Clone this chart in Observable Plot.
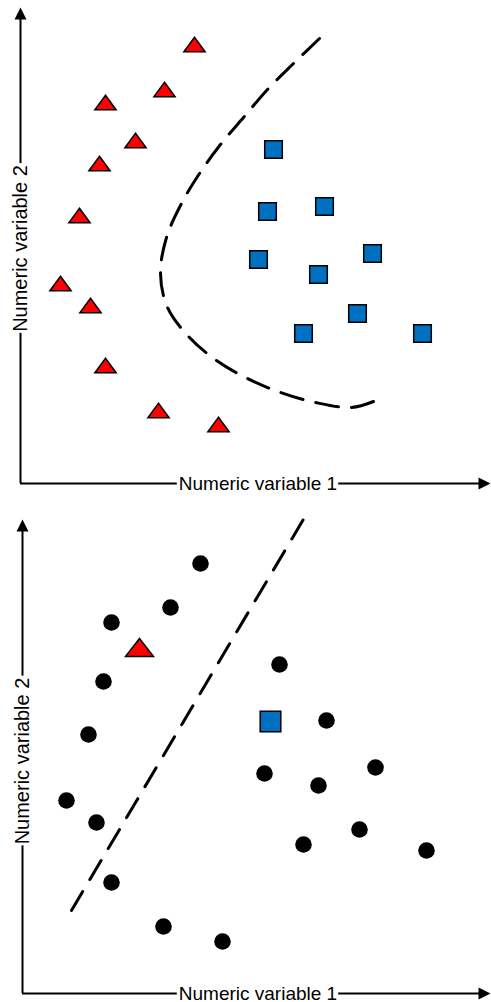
<!DOCTYPE html>
<html>
<head>
<meta charset="utf-8">
<script src="https://cdn.jsdelivr.net/npm/d3@7"></script>
<script src="https://cdn.jsdelivr.net/npm/@observablehq/plot@0.6"></script>
<style>
  html, body { margin: 0; padding: 0; background: white; }
  #chart svg { display: block; }
</style>
</head>
<body>
<div id="chart"></div>
<script>
// ---------- data ----------
const xLabel = "Numeric variable 1";
const yLabel = "Numeric variable 2";

// Top panel: labelled classes
const topTriX = [174, 144, 85, 115, 79, 59, 40, 70, 85, 138, 198];
const topTriY = [439, 394, 381, 343, 320, 268, 200, 178, 118, 73, 59];
const topSqX  = [253, 247, 304, 238, 352, 298, 337, 283, 402];
const topSqY  = [334, 272, 277, 224, 230, 209, 170, 150, 150];
// curved decision boundary
const boundX = [299, 273, 247, 223, 200, 179, 161, 146, 140, 147, 169, 196, 227, 260, 295, 331, 353];
const boundY = [445, 420, 394, 366, 339, 310, 280, 246, 210, 176, 146, 123, 105, 91, 81, 76, 82];

// Bottom panel: unlabelled points + one of each class
const botCircX = [178, 148, 89, 81, 66, 44, 74, 89, 141, 200, 257, 304, 242, 353, 296, 337, 281, 404];
const botCircY = [430, 386, 371, 312, 259, 193, 171, 111, 67, 52, 329, 273, 220, 226, 208, 164, 149, 143];
const botTriX = [117], botTriY = [346];
const botSqX = [248],  botSqY = [272];
// straight decision boundary
const lineX = [49, 282];
const lineY = [83, 476];

// ---------- helpers ----------
const zip = (xs, ys) => xs.map((x, i) => ({x, y: ys[i]}));
const FONT = "Liberation Sans, Arial, Helvetica, sans-serif";
const XFS = 19, YFS = 20;
const measure = (txt, fs) => {
  const ctx = document.createElement("canvas").getContext("2d");
  ctx.font = `${fs}px "Liberation Sans", Arial, sans-serif`;
  return ctx.measureText(txt).width;
};
const xLabW = measure(xLabel, XFS), yLabW = measure(yLabel, YFS);

const triSym = {draw(c) { c.moveTo(0, -7.2); c.lineTo(10.6, 7.2); c.lineTo(-10.6, 7.2); c.closePath(); }};
const bigTriSym = {draw(c) { c.moveTo(0, -9); c.lineTo(14, 9); c.lineTo(-14, 9); c.closePath(); }};
const sqSym  = {draw(c) { c.rect(-8.8, -8.8, 17.6, 17.6); }};
const bigSqSym  = {draw(c) { c.rect(-10.3, -10.3, 20.6, 20.6); }};
const arrowUp = {draw(c) { c.moveTo(0, 0); c.lineTo(6, 12); c.lineTo(-6, 12); c.closePath(); }};
const arrowRight = {draw(c) { c.moveTo(0, 0); c.lineTo(-12, -6); c.lineTo(-12, 6); c.closePath(); }};

// axis scales are 1 unit per pixel, so label widths convert directly
function axesMarks(xmax, ymax, xl, yl) {
  const gap = 1.5;
  const xa = xl - xLabW / 2 - gap, xb = xl + xLabW / 2 + gap;
  const ya = yl - yLabW / 2 - gap, yb = yl + yLabW / 2 + gap;
  return [
    Plot.ruleY([0, 0], {x1: [0, xb], x2: [xa, xmax - 6], stroke: "black", strokeWidth: 2}),
    Plot.ruleX([0, 0], {y1: [0, yb], y2: [ya, ymax - 6], stroke: "black", strokeWidth: 2}),
    Plot.dot([{x: 0, y: ymax}], {x: "x", y: "y", symbol: arrowUp, fill: "black", stroke: "none"}),
    Plot.dot([{x: xmax, y: 0}], {x: "x", y: "y", symbol: arrowRight, fill: "black", stroke: "none"}),
    Plot.text([{x: xl, y: 0, t: xLabel}], {x: "x", y: "y", text: "t", fontSize: XFS, fontFamily: FONT, fill: "black"}),
    Plot.text([{x: 0, y: yl, t: yLabel}], {x: "x", y: "y", text: "t", rotate: -90, fontSize: YFS, fontFamily: FONT, fill: "black"})
  ];
}

// ---------- top panel ----------
const topPanel = Plot.plot({
  width: 491, height: 501,
  marginLeft: 20, marginRight: 1, marginTop: 7, marginBottom: 18,
  x: {domain: [0, 470], axis: null},
  y: {domain: [0, 476], axis: null},
  style: {fontFamily: FONT, overflow: "visible", background: "white"},
  marks: [
    ...axesMarks(470, 476, 237.5, 235),
    Plot.line(zip(boundX, boundY), {x: "x", y: "y", curve: "catmull-rom", stroke: "black",
      strokeWidth: 3, strokeDasharray: "22,13"}),
    Plot.dot(zip(topTriX, topTriY), {x: "x", y: "y", symbol: triSym, fill: "#ff0000", stroke: "black", strokeWidth: 1.5}),
    Plot.dot(zip(topSqX, topSqY), {x: "x", y: "y", symbol: sqSym, fill: "#0070c0", stroke: "black", strokeWidth: 1.5})
  ]
});

// ---------- bottom panel ----------
const bottomPanel = Plot.plot({
  width: 491, height: 501,
  marginLeft: 22, marginRight: 1, marginTop: 18, marginBottom: 9,
  x: {domain: [0, 468], axis: null},
  y: {domain: [0, 474], axis: null},
  style: {fontFamily: FONT, overflow: "visible", background: "white"},
  marks: [
    ...axesMarks(468, 474, 235.5, 232.5),
    Plot.line(zip(lineX, lineY), {x: "x", y: "y", stroke: "black", strokeWidth: 3, strokeDasharray: "22,14"}),
    Plot.dot(zip(botCircX, botCircY), {x: "x", y: "y", r: 8.3, fill: "black", stroke: "none"}),
    Plot.dot(zip(botTriX, botTriY), {x: "x", y: "y", symbol: bigTriSym, fill: "#ff0000", stroke: "black", strokeWidth: 1.5}),
    Plot.dot(zip(botSqX, botSqY), {x: "x", y: "y", symbol: bigSqSym, fill: "#0070c0", stroke: "black", strokeWidth: 1.5})
  ]
});

document.getElementById("chart").append(topPanel, bottomPanel);

// fit the dash pattern of the curved boundary to 16 whole dashes
(function fitDashes() {
  const el = topPanel.querySelector("[stroke-dasharray]");
  if (!el) return;
  const path = el.tagName.toLowerCase() === "path" ? el : el.querySelector("path");
  if (!path || !path.getTotalLength) return;
  const L = path.getTotalLength();
  const n = 16, ratio = 23 / 36;
  const period = L / (n - 1 + ratio);
  el.setAttribute("stroke-dasharray", `${(period * ratio).toFixed(2)},${(period * (1 - ratio)).toFixed(2)}`);
})();
</script>
</body>
</html>
